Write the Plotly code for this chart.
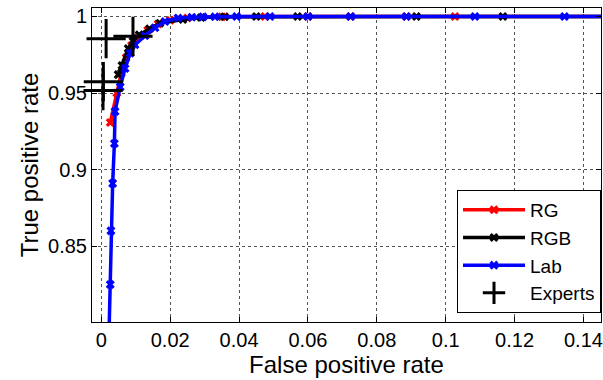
import plotly.graph_objects as go

# ---- data ----
lab_fpr = [0.0021, 0.0026, 0.0028, 0.0033, 0.0038, 0.0040, 0.0055, 0.0069, 0.0084, 0.0098,
           0.0127, 0.0156, 0.0185, 0.0223, 0.0263, 0.0295, 0.0330, 0.0393, 0.0490, 0.0600,
           0.0724, 0.0886, 0.1085, 0.1345, 0.1600]
lab_tpr = [0.780, 0.825, 0.860, 0.891, 0.917, 0.938, 0.954, 0.966, 0.976, 0.9815,
           0.9874, 0.9926, 0.9967, 0.9990, 0.9995, 0.9997, 0.9998, 0.9999, 0.9999, 1.0,
           1.0, 1.0, 1.0, 1.0, 1.0]

rg_fpr = [0.0026, 0.0045, 0.0058, 0.0072, 0.0088, 0.0105, 0.0135, 0.0165, 0.0200, 0.0250,
          0.0350, 0.0475, 0.0600, 0.0724, 0.0886, 0.1027, 0.1600]
rg_tpr = [0.9307, 0.9500, 0.9630, 0.9730, 0.9810, 0.9860, 0.9910, 0.9950, 0.9975, 0.9990,
          0.9998, 0.9999, 1.0, 1.0, 1.0, 1.0, 1.0]

rgb_fpr = [0.0049, 0.0060, 0.0078, 0.0092, 0.0110, 0.0140, 0.0170, 0.0237, 0.0290, 0.0358,
           0.0450, 0.0570, 0.0915, 0.1166, 0.1600]
rgb_tpr = [0.9620, 0.9680, 0.9790, 0.9840, 0.9880, 0.9920, 0.9955, 0.9980, 0.9993, 0.9998,
           0.9999, 1.0, 1.0, 1.0, 1.0]

experts_fpr = [0.0014, 0.0092, 0.0006, 0.0005]
experts_tpr = [0.9855, 0.9870, 0.9574, 0.9516]

x_ticks = [0, 0.02, 0.04, 0.06, 0.08, 0.1, 0.12, 0.14]
x_tick_labels = ["0", "0.02", "0.04", "0.06", "0.08", "0.1", "0.12", "0.14"]
y_ticks = [0.85, 0.9, 0.95, 1.0]
y_tick_labels = ["0.85", "0.9", "0.95", "1"]

FONT = "Liberation Sans, Arial, sans-serif"

fig = go.Figure()

def curve(x, y, name, color):
    fig.add_trace(go.Scatter(
        x=x, y=y, name=name, mode="lines+markers",
        line=dict(color=color, width=3.5),
        marker=dict(symbol="x", size=8, color=color, line=dict(width=0)),
    ))

curve(rg_fpr, rg_tpr, "RG", "#ff0000")
curve(rgb_fpr, rgb_tpr, "RGB", "#000000")
curve(lab_fpr, lab_tpr, "Lab", "#0000ff")

fig.add_trace(go.Scatter(
    x=experts_fpr, y=experts_tpr, name="Experts", mode="markers",
    marker=dict(symbol="cross-thin", size=28, color="black",
                line=dict(color="black", width=3)),
    cliponaxis=False,
))

axis_common = dict(
    showline=True, linecolor="black", linewidth=1, mirror="ticks",
    ticks="inside", ticklen=5, tickcolor="black",
    showgrid=True, gridcolor="#555555", griddash="dot", gridwidth=1,
    zeroline=False,
    ticklabeloverflow="allow",
    tickfont=dict(family=FONT, size=20, color="black"),
)

fig.update_layout(
    width=603, height=380,
    margin=dict(l=92, r=0, t=8, b=58),
    paper_bgcolor="white", plot_bgcolor="white",
    font=dict(family=FONT, color="black"),
    xaxis=dict(
        range=[-0.0027, 0.1451],
        tickvals=x_ticks, ticktext=x_tick_labels,
        title=dict(text="False positive rate", font=dict(family=FONT, size=24), standoff=2),
        **axis_common,
    ),
    yaxis=dict(
        range=[0.8005, 1.0055],
        tickvals=y_ticks, ticktext=y_tick_labels,
        title=dict(text="True positive rate", font=dict(family=FONT, size=24), standoff=2),
        **axis_common,
    ),
    legend=dict(
        x=1, y=0.029, xanchor="right", yanchor="bottom",
        bgcolor="white", bordercolor="black", borderwidth=1,
        font=dict(family=FONT, size=19, color="black"),
        itemwidth=62,
        tracegroupgap=0,
    ),
    showlegend=True,
)

fig.write_html("out.html")
